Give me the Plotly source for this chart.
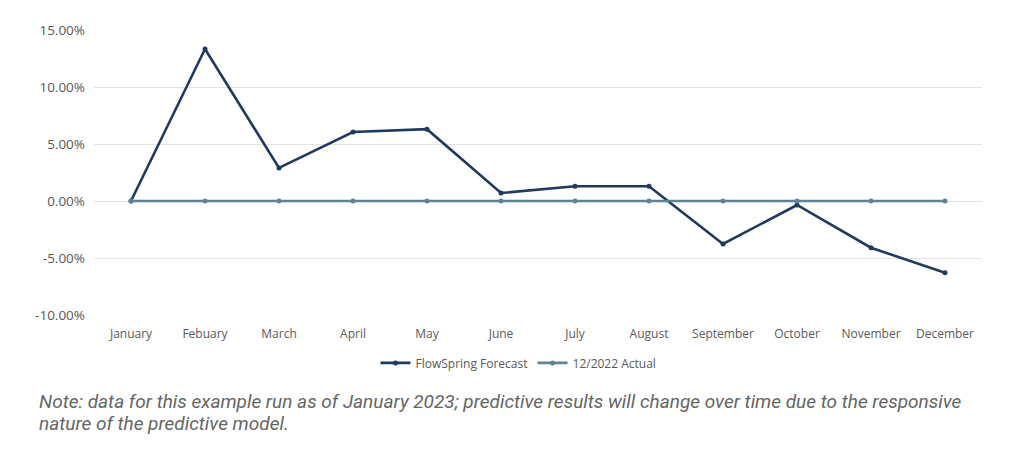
import plotly.graph_objects as go

months = ["January", "Febuary", "March", "April", "May", "June", "July",
          "August", "September", "October", "November", "December"]
forecast = [0.0, 13.33, 2.9, 6.05, 6.3, 0.7, 1.3, 1.3, -3.77, -0.35, -4.1, -6.3]
actual = [0.0] * 12
y_ticks = [-10, -5, 0, 5, 10, 15]
y_tick_labels = ["-10.00%", "-5.00%", "0.00%", "5.00%", "10.00%", "15.00%"]
note_lines = [
    "Note: data for this example run as of January 2023; predictive results will change over time due to the responsive",
    "nature of the predictive model.",
]

fig = go.Figure()
fig.add_trace(go.Scatter(
    x=months, y=forecast, name="FlowSpring Forecast", mode="lines+markers",
    line=dict(color="#1f3a5f", width=2.6), marker=dict(size=5, color="#1f3a5f")))
fig.add_trace(go.Scatter(
    x=months, y=actual, name="12/2022 Actual", mode="lines+markers",
    line=dict(color="#5b8597", width=2.6), marker=dict(size=5, color="#5b8597")))

annotations = []
for i, line in enumerate(note_lines):
    annotations.append(dict(
        text="<i>" + line + "</i>", xref="paper", yref="paper",
        x=-0.0643, y=-0.302 - 0.078 * i, xanchor="left", yanchor="middle",
        align="left", showarrow=False,
        font=dict(family="Roboto", size=19, color="#656565")))

fig.update_layout(
    width=1008, height=437,
    margin=dict(l=86, r=34, t=22, b=130, autoexpand=False),
    paper_bgcolor="white", plot_bgcolor="white",
    font=dict(family="Open Sans", size=12, color="#595959"),
    showlegend=True,
    legend=dict(orientation="h", x=0.478, xanchor="center", y=-0.168, yanchor="middle",
                font=dict(size=12, color="#595959")),
    xaxis=dict(showgrid=False, showline=False, ticks="", range=[-0.5, 11.5],
               ticklabelstandoff=10, tickfont=dict(size=12, color="#595959")),
    yaxis=dict(range=[-10, 15], tickvals=y_ticks, ticktext=y_tick_labels,
               showgrid=True, gridcolor="#e3e3e3", gridwidth=1, zeroline=False,
               showline=False, ticks="", ticklabelstandoff=8,
               tickfont=dict(size=13.5, color="#595959")),
    annotations=annotations,
)
fig.update_traces(cliponaxis=False)
fig.write_html("out.html")
